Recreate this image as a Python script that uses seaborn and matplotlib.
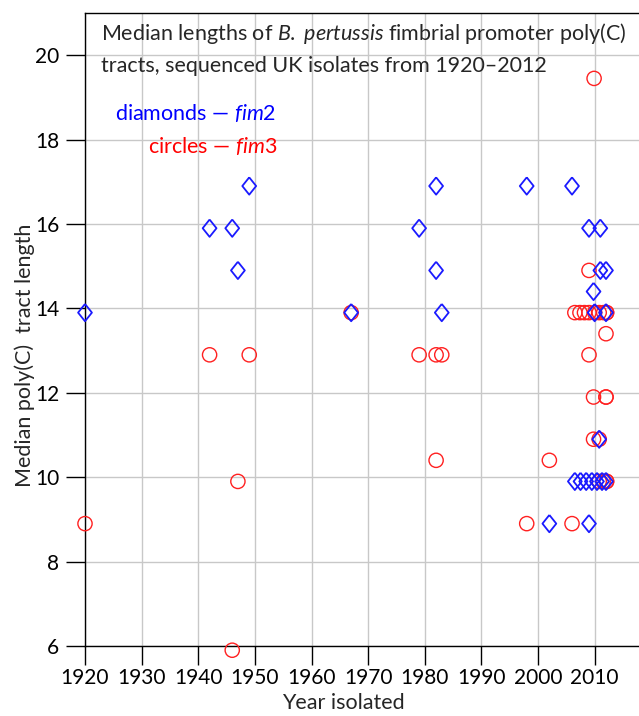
import matplotlib
matplotlib.use("Agg")
import matplotlib.pyplot as plt
import seaborn as sns
import pandas as pd

# fim2 (diamonds): year isolated, median poly(C) tract length
fim2_year = [1920, 1942, 1946, 1947, 1949, 1967, 1979, 1982, 1982, 1983,
             1998, 2006, 2009, 2011, 2009.8, 2011, 2012, 2010, 2012, 2010.8,
             2006.5, 2007.5, 2008.5, 2009.5, 2010.4, 2011.3, 2012, 2002, 2009]
fim2_len = [13.9, 15.9, 15.9, 14.9, 16.9, 13.9, 15.9, 16.9, 14.9, 13.9,
            16.9, 16.9, 15.9, 15.9, 14.4, 14.9, 14.9, 13.9, 13.9, 10.9,
            9.9, 9.9, 9.9, 9.9, 9.9, 9.9, 9.9, 8.9, 8.9]

# fim3 (circles)
fim3_year = [1920, 1942, 1946, 1947, 1949, 1967, 1979, 1982, 1983, 1982,
             1998, 2002, 2006, 2009, 2009.9,
             2006.5, 2007.4, 2008.2, 2009, 2010, 2010.8, 2011.6, 2012.1, 2012.1,
             2012, 2009, 2009.8, 2012, 2012, 2009.8, 2010.8,
             2010.8, 2011.5, 2012.1, 2012.1]
fim3_len = [8.9, 12.9, 5.9, 9.9, 12.9, 13.9, 12.9, 12.9, 12.9, 10.4,
            8.9, 10.4, 8.9, 14.9, 19.45,
            13.9, 13.9, 13.9, 13.9, 13.9, 13.9, 13.9, 13.9, 13.9,
            13.4, 12.9, 11.9, 11.9, 11.9, 10.9, 10.9,
            9.9, 9.9, 9.9, 9.9]

x_ticks = list(range(1920, 2011, 10))
y_ticks = list(range(6, 21, 2))

sns.set_style("whitegrid")
plt.rcParams["font.family"] = ["Lato", "DejaVu Sans"]
plt.rcParams["mathtext.fontset"] = "custom"
plt.rcParams["mathtext.rm"] = "Lato"
plt.rcParams["mathtext.it"] = "Lato:italic"

fig = plt.figure(figsize=(6.39, 7.16), dpi=100)
ax = fig.add_axes([85 / 639, 70 / 716, 554 / 639, 633 / 716])

df2 = pd.DataFrame({"year": fim2_year, "len": fim2_len})
df3 = pd.DataFrame({"year": fim3_year, "len": fim3_len})

diamond = [(0, 1), (0.8, 0), (0, -1), (-0.8, 0), (0, 1)]
sns.scatterplot(data=df3, x="year", y="len", ax=ax, marker="o", s=105,
                facecolor="none", edgecolor="#ff2020", linewidth=1.0,
                clip_on=False, zorder=3)
sns.scatterplot(data=df2, x="year", y="len", ax=ax, marker=diamond, s=155,
                facecolor="none", edgecolor="#1a1aff", linewidth=1.3,
                clip_on=False, zorder=4)

ax.set_xlim(1920, 1920 + 554 / 5.663)
ax.set_ylim(6, 21)
ax.set_xticks(x_ticks)
ax.set_yticks(y_ticks)
ax.grid(True, color="#c8c8c8", linewidth=1.0)
ax.set_axisbelow(True)

for side in ["left", "bottom", "top"]:
    ax.spines[side].set_color("black")
    ax.spines[side].set_linewidth(1.0)
ax.spines["right"].set_visible(False)

ax.tick_params(axis="both", direction="out", length=13.5, width=1.0,
               color="black", labelsize=15, labelcolor="black",
               bottom=True, left=True)
ax.tick_params(axis="y", pad=5)
ax.tick_params(axis="x", pad=2)

ax.set_xlabel("")
ax.set_ylabel("")
fig.text(0.537, 0.018, "Year isolated", fontsize=15.5, ha="center", va="center")
fig.text(0.039, 0.504, "Median poly(C)  tract length", fontsize=15.5,
         rotation=90, ha="center", va="center")

fig.text(101 / 639, 1 - 33 / 716,
         r"Median lengths of $\it{B.}$ $\it{pertussis}$ fimbrial promoter poly(C)",
         fontsize=15.5, ha="left", va="center")
fig.text(101 / 639, 1 - 66 / 716,
         "tracts, sequenced UK isolates from 1920\u20132012",
         fontsize=15.5, ha="left", va="center")
fig.text(276 / 639, 1 - 113 / 716, "diamonds \u2014 " + r"$\it{fim}$2",
         fontsize=15.5, color="blue", ha="right", va="center")
fig.text(277 / 639, 1 - 146 / 716, "circles \u2014 " + r"$\it{fim}$3",
         fontsize=15.5, color="red", ha="right", va="center")

fig.savefig("out.png", dpi=100)
